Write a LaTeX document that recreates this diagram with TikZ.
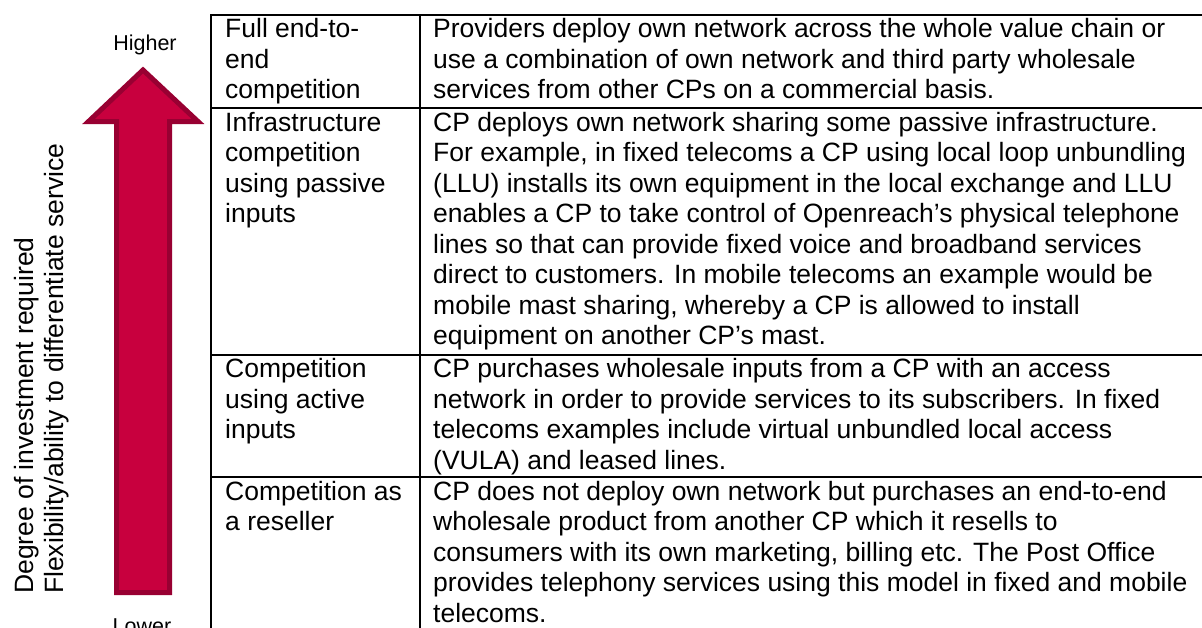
\documentclass[tikz,border=0pt]{standalone}
\usepackage{fontspec}
\setmainfont{Liberation Sans}
\definecolor{arrowred}{RGB}{200,0,62}
\definecolor{arrowrim}{RGB}{152,0,50}

\begin{document}
\begin{tikzpicture}[x=1pt, y=-1pt,
  every node/.style = {inner sep=0pt, font=\fontsize{26.5}{30.5}\selectfont},
  cell/.style = {anchor=north west, align=left},
  side/.style = {rotate=90, anchor=base west},
  tag/.style = {anchor=base, font=\fontsize{21.5}{25}\selectfont},
  rule/.style = {line width=2pt},
  bigarrow/.style = {fill=arrowred, draw=arrowrim, line width=5pt, line join=miter}]
\useasboundingbox (0,0) rectangle (1202,627);

% Define the table grid
\draw[rule] (1203,15) -- (211,15) -- (211,628);
\draw[rule] (420,15) -- (420,628);
\foreach \y in {108,354.5,477}
  \draw[rule] (211,\y) -- (1203,\y);

% Left column
\node[cell] (fullname) at (225,16) {\strut Full end-to-\\end\\competition};
\node[cell] (infraname) at (225,109.5) {\strut Infrastructure\\competition\\using passive\\inputs};
\node[cell] (activename) at (225,356) {\strut Competition\\using active\\inputs};
\node[cell] (resalename) at (225,478.5) {\strut Competition as\\a reseller};

% Right column
\node[cell] (fulltext) at (433,16) {\strut Providers deploy own network across the whole value chain or\\
  use a combination of own network and third party wholesale\\
  services from other CPs on a commercial basis.};
\node[cell] (infratext) at (433,109.5) {\strut CP deploys own network sharing some passive infrastructure.\\
  For example, in fixed telecoms a CP using local loop unbundling\\
  (LLU) installs its own equipment in the local exchange and LLU\\
  enables a CP to take control of Openreach’s physical telephone\\
  lines so that can provide fixed voice and broadband services\\
  direct to customers. In mobile telecoms an example would be\\
  mobile mast sharing, whereby a CP is allowed to install\\
  equipment on another CP’s mast.};
\node[cell] (activetext) at (433,356) {\strut CP purchases wholesale inputs from a CP with an access\\
  network in order to provide services to its subscribers. In fixed\\
  telecoms examples include virtual unbundled local access\\
  (VULA) and leased lines.};
\node[cell] (resaletext) at (433,478.5) {\strut CP does not deploy own network but purchases an end-to-end\\
  wholesale product from another CP which it resells to\\
  consumers with its own marketing, billing etc. The Post Office\\
  provides telephony services using this model in fixed and mobile\\
  telecoms.};

% Scale arrow with its two ends
\draw[bigarrow] (143,70) -- (198,121.5) -- (169.5,121.5) -- (169.5,592.5)
  -- (116.5,592.5) -- (116.5,121.5) -- (88.5,121.5) -- cycle;
\node[tag] (higher) at (145,50) {Higher};
\node[tag] (lower) at (142,633) {Lower};

\node[side] (degree) at (33,594) {Degree of investment required};
\node[side] (flex) at (63,594) {Flexibility/ability to differentiate service};
\end{tikzpicture}
\end{document}
